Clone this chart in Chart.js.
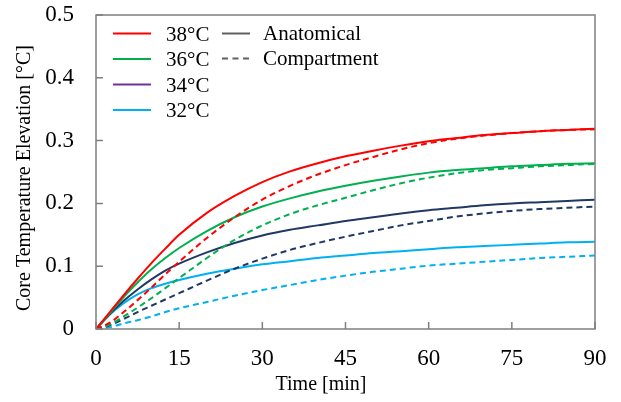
<!DOCTYPE html>
<html>
<head>
<meta charset="utf-8">
<script src="https://cdn.jsdelivr.net/npm/chart.js@4"></script>
<style>
  html, body { margin: 0; padding: 0; background: #ffffff; }
  #wrap { width: 621px; height: 402px; }
</style>
</head>
<body>
<div id="wrap"><canvas id="c" width="621" height="402"></canvas></div>
<script>
// ---- data ----
const timeMin = [0, 2.5, 5, 7.5, 10, 12.5, 15, 20, 25, 30, 35, 40, 45, 50, 55, 60, 65, 70, 75, 80, 85, 90];

const anat38 = [0, 0.027, 0.054, 0.080, 0.105, 0.128, 0.150, 0.185, 0.212, 0.234, 0.251, 0.264, 0.275, 0.284, 0.292, 0.299, 0.304, 0.309, 0.312, 0.315, 0.317, 0.319];
const comp38 = [0, 0.010, 0.027, 0.046, 0.066, 0.087, 0.107, 0.145, 0.178, 0.206, 0.228, 0.246, 0.261, 0.274, 0.286, 0.296, 0.303, 0.308, 0.312, 0.315, 0.317, 0.318];

const anat36 = [0, 0.025, 0.051, 0.074, 0.095, 0.113, 0.129, 0.156, 0.178, 0.195, 0.208, 0.219, 0.228, 0.236, 0.243, 0.249, 0.253, 0.256, 0.259, 0.261, 0.263, 0.264];
const comp36 = [0, 0.007, 0.020, 0.034, 0.049, 0.065, 0.081, 0.113, 0.142, 0.165, 0.183, 0.197, 0.209, 0.221, 0.232, 0.241, 0.248, 0.253, 0.256, 0.259, 0.261, 0.263];

const anat34 = [0, 0.024, 0.045, 0.063, 0.079, 0.093, 0.104, 0.122, 0.137, 0.149, 0.158, 0.165, 0.172, 0.178, 0.184, 0.189, 0.193, 0.197, 0.200, 0.202, 0.204, 0.206];
const comp34 = [0, 0.006, 0.016, 0.027, 0.037, 0.047, 0.057, 0.077, 0.096, 0.112, 0.126, 0.137, 0.147, 0.156, 0.165, 0.172, 0.179, 0.184, 0.188, 0.191, 0.193, 0.195];

const anat32 = [0, 0.023, 0.041, 0.055, 0.065, 0.072, 0.078, 0.088, 0.096, 0.103, 0.108, 0.113, 0.117, 0.121, 0.124, 0.127, 0.130, 0.132, 0.134, 0.136, 0.138, 0.139];
const comp32 = [0, 0.003, 0.009, 0.014, 0.020, 0.027, 0.033, 0.043, 0.053, 0.062, 0.070, 0.078, 0.085, 0.091, 0.096, 0.101, 0.104, 0.107, 0.110, 0.113, 0.115, 0.117];

const tempLabels = ['38°C', '36°C', '34°C', '32°C'];
const modelLabels = ['Anatomical', 'Compartment'];
const xTitle = 'Time [min]';
const yTitle = 'Core Temperature Elevation [°C]';
const xTicks = [0, 15, 30, 45, 60, 75, 90];
const yTicks = [0, 0.1, 0.2, 0.3, 0.4, 0.5];

// ---- styles ----
const FONT = "'Liberation Serif', 'Times New Roman', serif";
const lineColors = ['#ff0000', '#00b050', '#203864', '#00b0f0'];
const legendColors = ['#ff0000', '#00b050', '#7030a0', '#00b0f0'];
const FRAME = '#7f7f7f';
const DASH = [6, 4];

const anatSeries = [anat38, anat36, anat34, anat32];
const compSeries = [comp38, comp36, comp34, comp32];

function pts(vals) { return vals.map((v, i) => ({ x: timeMin[i], y: v })); }

const datasets = [];
for (let k = 0; k < 4; k++) {
  datasets.push({
    label: tempLabels[k] + ' ' + modelLabels[1],
    data: pts(compSeries[k]),
    borderColor: lineColors[k], borderWidth: 2, borderDash: DASH,
    pointRadius: 0, fill: false, cubicInterpolationMode: 'monotone'
  });
}
for (let k = 0; k < 4; k++) {
  datasets.push({
    label: tempLabels[k] + ' ' + modelLabels[0],
    data: pts(anatSeries[k]),
    borderColor: lineColors[k], borderWidth: 2,
    pointRadius: 0, fill: false, cubicInterpolationMode: 'monotone'
  });
}

const framePlugin = {
  id: 'frame',
  afterDatasetsDraw(chart) {
    const { ctx, chartArea: a, scales } = chart;
    const xs = scales.x, ys = scales.y;
    ctx.save();
    ctx.strokeStyle = FRAME;
    ctx.lineWidth = 1.5;
    ctx.beginPath();
    xs.ticks.forEach(t => {
      const px = xs.getPixelForValue(t.value);
      ctx.moveTo(px, a.bottom); ctx.lineTo(px, a.bottom - 7);
    });
    ys.ticks.forEach(t => {
      const py = ys.getPixelForValue(t.value);
      ctx.moveTo(a.left, py); ctx.lineTo(a.left + 7, py);
    });
    ctx.stroke();
    ctx.strokeRect(a.left, a.top, a.right - a.left, a.bottom - a.top);
    ctx.restore();
  },
  afterDraw(chart) {
    const ctx = chart.ctx;
    ctx.save();
    // axis titles
    ctx.fillStyle = '#000';
    ctx.font = '20px ' + FONT;
    ctx.textAlign = 'center';
    ctx.textBaseline = 'middle';
    ctx.fillText(xTitle, 321, 385);
    ctx.translate(25, 178);
    ctx.rotate(-Math.PI / 2);
    ctx.fillText(yTitle, 0, 0);
    ctx.restore();

    // legend
    ctx.save();
    ctx.font = '21px ' + FONT;
    ctx.textAlign = 'left';
    ctx.textBaseline = 'middle';
    ctx.lineWidth = 2;
    const rows = [35, 60.5, 86, 111.5];
    tempLabels.forEach((lab, i) => {
      ctx.strokeStyle = legendColors[i];
      ctx.setLineDash([]);
      ctx.beginPath();
      ctx.moveTo(113, rows[i] - 1.5); ctx.lineTo(151, rows[i] - 1.5);
      ctx.stroke();
      ctx.fillStyle = '#000';
      ctx.fillText(lab, 166, rows[i]);
    });
    const rows2 = [34, 59];
    modelLabels.forEach((lab, i) => {
      ctx.strokeStyle = '#606060';
      ctx.setLineDash(i === 0 ? [] : [6, 4.5]);
      ctx.beginPath();
      ctx.moveTo(222, rows2[i] - 0.5); ctx.lineTo(250, rows2[i] - 0.5);
      ctx.stroke();
      ctx.fillStyle = '#000';
      ctx.fillText(lab, 263, rows2[i]);
    });
    ctx.restore();
  }
};

new Chart(document.getElementById('c'), {
  type: 'line',
  data: { datasets },
  options: {
    responsive: false,
    animation: false,
    devicePixelRatio: 1,
    layout: { padding: { top: 15, right: 26, bottom: 0, left: 0 } },
    plugins: { legend: { display: false }, tooltip: { enabled: false } },
    scales: {
      x: {
        type: 'linear', min: 0, max: 90,
        afterBuildTicks(s) { s.ticks = xTicks.map(v => ({ value: v })); },
        ticks: { color: '#000', font: { family: FONT, size: 23 }, padding: 16, maxRotation: 0 },
        grid: { display: false, drawTicks: false },
        border: { display: false },
        afterFit(s) { s.height = 73; s.paddingLeft = 0; s.paddingRight = 0; }
      },
      y: {
        type: 'linear', min: 0, max: 0.5,
        afterBuildTicks(s) { s.ticks = yTicks.map(v => ({ value: v })); },
        ticks: { color: '#000', font: { family: FONT, size: 23 }, padding: 22 },
        grid: { display: false, drawTicks: false },
        border: { display: false },
        afterFit(s) { s.width = 96; s.paddingTop = 0; s.paddingBottom = 0; }
      }
    }
  },
  plugins: [framePlugin]
});
</script>
</body>
</html>
